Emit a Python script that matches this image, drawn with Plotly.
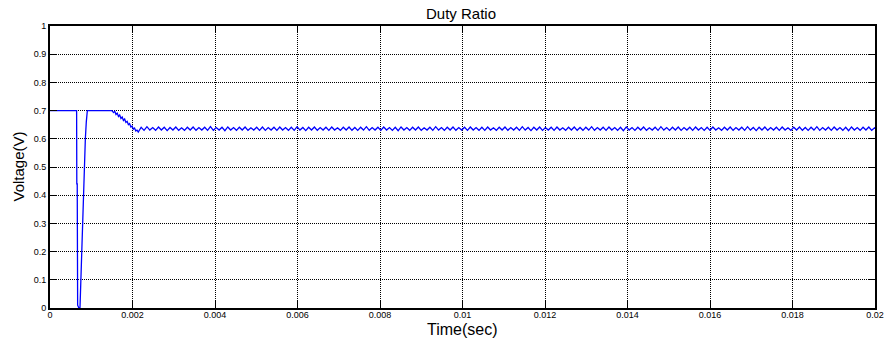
import numpy as np
import plotly.graph_objects as go

# ---- data ----
title_text = "Duty Ratio"
x_label = "Time(sec)"
y_label = "Voltage(V)"

x_ticks = [0, 0.002, 0.004, 0.006, 0.008, 0.01, 0.012, 0.014, 0.016, 0.018, 0.02]
x_tick_labels = ["0", "0.002", "0.004", "0.006", "0.008", "0.01", "0.012", "0.014", "0.016", "0.018", "0.02"]
y_ticks = [0, 0.1, 0.2, 0.3, 0.4, 0.5, 0.6, 0.7, 0.8, 0.9, 1.0]
y_tick_labels = ["0", "0.1", "0.2", "0.3", "0.4", "0.5", "0.6", "0.7", "0.8", "0.9", "1"]

# start-up transient
t_transient = [0.0, 0.000645, 0.00065, 0.00066, 0.00067, 0.0007, 0.000727, 0.000748, 0.000768,
               0.000788, 0.000808, 0.000833, 0.000857, 0.00088, 0.000905, 0.0015,
               0.00154, 0.00157, 0.0016, 0.00163, 0.00166, 0.00169, 0.00172, 0.00175,
               0.00178, 0.00181, 0.00184, 0.00187, 0.0019, 0.00193, 0.00196, 0.00199,
               0.00202, 0.00205, 0.00208, 0.00211, 0.00214]
v_transient = [0.70, 0.70, 0.44, 0.44, 0.01, 0.0, 0.0, 0.10, 0.20,
               0.33, 0.45, 0.53, 0.60, 0.66, 0.70, 0.70,
               0.693, 0.698, 0.686, 0.691, 0.679, 0.684, 0.672, 0.677,
               0.665, 0.670, 0.658, 0.662, 0.650, 0.654, 0.642, 0.645,
               0.634, 0.638, 0.628, 0.631, 0.624]

# steady-state ripple (sampled every 0.00007 s from 0.00221 s)
ripple_start = 0.00221
ripple_step = 0.00007
v_ripple = [
    0.641, 0.630, 0.643, 0.631, 0.640, 0.630, 0.642, 0.631, 0.641, 0.629, 0.640, 0.631, 0.642, 0.630, 0.639, 0.630,
    0.641, 0.631, 0.642, 0.630, 0.640, 0.631, 0.641, 0.630, 0.643, 0.630, 0.640, 0.631, 0.641, 0.629, 0.642, 0.631,
    0.640, 0.630, 0.641, 0.631, 0.642, 0.630, 0.639, 0.631, 0.641, 0.630, 0.642, 0.630, 0.640, 0.631, 0.641, 0.630,
    0.642, 0.631, 0.640, 0.630, 0.641, 0.630, 0.643, 0.631, 0.640, 0.629, 0.641, 0.631, 0.642, 0.630, 0.640, 0.631,
    0.641, 0.630, 0.642, 0.631, 0.639, 0.630, 0.641, 0.631, 0.642, 0.630, 0.640, 0.630, 0.641, 0.631, 0.643, 0.630,
    0.640, 0.631, 0.641, 0.630, 0.642, 0.631, 0.640, 0.630, 0.641, 0.629, 0.642, 0.631, 0.640, 0.630, 0.641, 0.631,
    0.642, 0.630, 0.639, 0.631, 0.641, 0.630, 0.643, 0.631, 0.640, 0.630, 0.641, 0.631, 0.642, 0.630, 0.640, 0.631,
    0.641, 0.630, 0.642, 0.631, 0.640, 0.630, 0.641, 0.630, 0.642, 0.631, 0.639, 0.630, 0.641, 0.631, 0.642, 0.630,
    0.640, 0.631, 0.641, 0.630, 0.643, 0.631, 0.640, 0.629, 0.641, 0.631, 0.642, 0.630, 0.640, 0.631, 0.641, 0.630,
    0.642, 0.631, 0.639, 0.630, 0.641, 0.631, 0.642, 0.630, 0.640, 0.630, 0.641, 0.631, 0.643, 0.630, 0.640, 0.631,
    0.641, 0.630, 0.642, 0.631, 0.640, 0.630, 0.641, 0.629, 0.642, 0.631, 0.640, 0.630, 0.641, 0.631, 0.642, 0.630,
    0.639, 0.631, 0.641, 0.630, 0.643, 0.631, 0.640, 0.630, 0.641, 0.631, 0.642, 0.630, 0.640, 0.631, 0.641, 0.630,
    0.642, 0.631, 0.640, 0.630, 0.641, 0.630, 0.642, 0.631, 0.639, 0.630, 0.641, 0.631, 0.642, 0.630, 0.640, 0.631,
    0.641, 0.630, 0.643, 0.631, 0.640, 0.629, 0.641, 0.631, 0.642, 0.630, 0.640, 0.631, 0.641, 0.630, 0.642, 0.631,
    0.639, 0.630, 0.641, 0.631, 0.642, 0.630, 0.640, 0.630, 0.641, 0.631, 0.643, 0.630, 0.640, 0.631, 0.641, 0.630,
    0.642, 0.631, 0.640, 0.630, 0.641, 0.629, 0.642, 0.631, 0.640, 0.630, 0.641, 0.631, 0.642, 0.630, 0.639, 0.631,
]
t_ripple = list(ripple_start + ripple_step * np.arange(len(v_ripple)))

t_all = t_transient + t_ripple
v_all = v_transient + v_ripple

FONT = "Liberation Sans, Arial, sans-serif"

W, H = 886, 344
L, R, T, B = 50, 11, 26, 36
plot_w = W - L - R
plot_h = H - T - B

fig = go.Figure()
fig.add_trace(go.Scatter(
    x=t_all, y=v_all, mode="lines",
    line=dict(color="#0000FF", width=1.3),
    showlegend=False, hoverinfo="skip",
))

axis_common = dict(
    showline=True, linecolor="black", linewidth=2, mirror="ticks",
    ticks="inside", ticklen=7, tickwidth=1.2, tickcolor="black",
    showgrid=True, gridcolor="#000000", gridwidth=1, griddash="1px,1px",
    zeroline=False, automargin=False,
    tickfont=dict(family=FONT, size=9, color="black"),
)

fig.update_layout(
    width=W, height=H,
    margin=dict(l=L, r=R, t=T, b=B, autoexpand=False),
    paper_bgcolor="white", plot_bgcolor="white",
    font=dict(family=FONT, color="black"),
    xaxis=dict(range=[0, 0.02], tickvals=x_ticks, ticktext=x_tick_labels,
               ticklabelstandoff=-3, **axis_common),
    yaxis=dict(range=[0, 1], tickvals=y_ticks, ticktext=y_tick_labels, **axis_common),
    annotations=[
        dict(text=title_text, xref="paper", yref="paper",
             x=(461 - L) / plot_w, y=(308 - 13.5) / plot_h,
             xanchor="center", yanchor="middle",
             showarrow=False, font=dict(size=15, family=FONT, color="black")),
        dict(text=x_label, xref="paper", yref="paper",
             x=(462 - L) / plot_w, y=(308 - 329.5) / plot_h,
             xanchor="center", yanchor="middle",
             showarrow=False, font=dict(size=16, family=FONT, color="black")),
        dict(text=y_label, xref="paper", yref="paper",
             x=(17.5 - L) / plot_w, y=0.5,
             xanchor="center", yanchor="middle",
             textangle=-90, showarrow=False, font=dict(size=15, family=FONT, color="black")),
    ],
)

fig.write_html("out.html", config={"displayModeBar": False})

# remove the default page margin so the figure sits at the window's top-left corner
with open("out.html", "r", encoding="utf-8") as f:
    html = f.read()
html = html.replace("<head>", "<head><style>html,body{margin:0;padding:0;overflow:hidden;}</style>", 1)
with open("out.html", "w", encoding="utf-8") as f:
    f.write(html)
